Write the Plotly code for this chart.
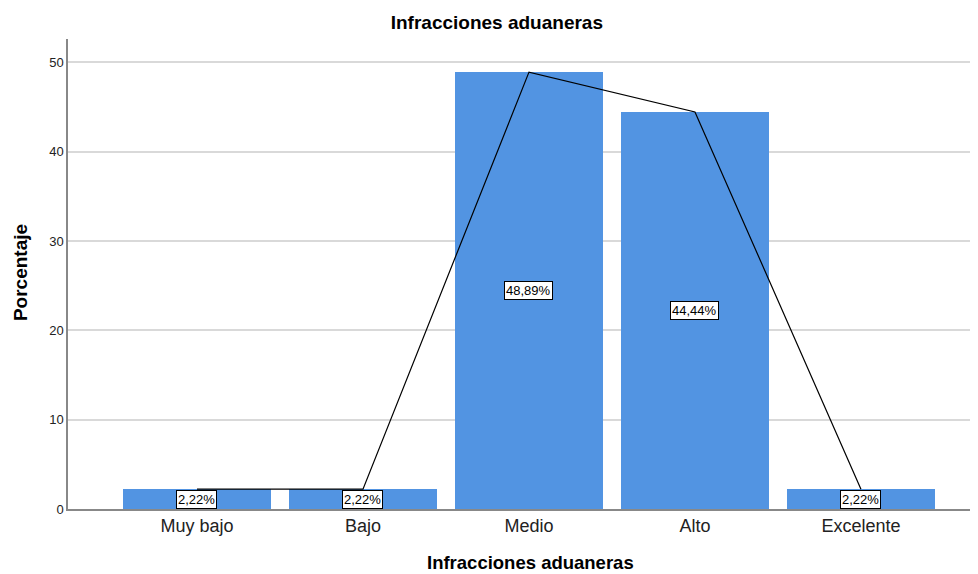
import plotly.graph_objects as go

categories = ["Muy bajo", "Bajo", "Medio", "Alto", "Excelente"]
percentages = [2.22, 2.22, 48.89, 44.44, 2.22]
labels = ["2,22%", "2,22%", "48,89%", "44,44%", "2,22%"]
y_ticks = [0, 10, 20, 30, 40, 50]

FONT = "Liberation Sans, Arial, sans-serif"
x_idx = list(range(len(categories)))

fig = go.Figure()
fig.add_trace(go.Bar(
    x=x_idx, y=percentages, width=0.89,
    marker=dict(color="#5294E2", line=dict(width=0)),
    hoverinfo="skip", showlegend=False,
))
fig.add_trace(go.Scatter(
    x=x_idx, y=percentages, mode="lines",
    line=dict(color="black", width=1.2),
    hoverinfo="skip", showlegend=False,
))

for xi, v, t in zip(x_idx, percentages, labels):
    fig.add_annotation(
        x=xi, y=v / 2, text=t, showarrow=False,
        font=dict(family=FONT, size=13, color="black"),
        bgcolor="white", bordercolor="black", borderwidth=1, borderpad=1,
    )

# axis titles
fig.add_annotation(
    xref="paper", yref="paper", x=0.508, y=-0.114, text="<b>Infracciones aduaneras</b>",
    showarrow=False, xanchor="center", yanchor="middle",
    font=dict(family=FONT, size=18.5, color="black"),
)
fig.add_annotation(
    xref="paper", yref="paper", x=-0.0527, y=0.502, text="<b>Porcentaje</b>",
    showarrow=False, xanchor="center", yanchor="middle", textangle=-90,
    font=dict(family=FONT, size=19, color="black"),
)

fig.update_layout(
    width=970, height=566,
    margin=dict(l=60, r=0, t=31, b=65),
    paper_bgcolor="white", plot_bgcolor="white",
    title=dict(text="<b>Infracciones aduaneras</b>", x=0.504, xanchor="center",
               y=0.975, yanchor="middle",
               font=dict(family=FONT, size=19, color="black")),
    bargap=0,
)
fig.update_xaxes(
    range=[-0.777, 4.705], tickvals=x_idx, ticktext=categories,
    tickfont=dict(family=FONT, size=18, color="#222"),
    showgrid=False, zeroline=False,
    showline=True, linecolor="#888", linewidth=1.5,
    ticks="", ticklen=0,
)
fig.update_yaxes(
    range=[0, 52.6], tickvals=y_ticks,
    tickfont=dict(family=FONT, size=13, color="#222"),
    showgrid=True, gridcolor="#d9d9d9", gridwidth=2,
    zeroline=False, showline=True, linecolor="#888", linewidth=1.5,
    ticks="",
)

fig.write_html("out.html")
